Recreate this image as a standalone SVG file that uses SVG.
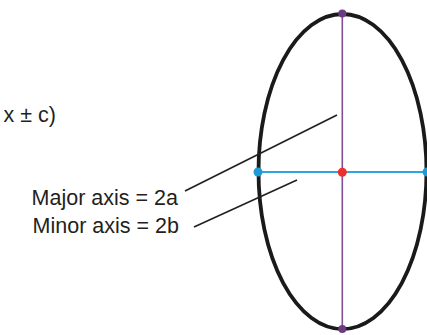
<svg xmlns="http://www.w3.org/2000/svg" width="427" height="335" viewBox="0 0 427 335">
<style>
.lbl{font-family:"Liberation Sans",Arial,sans-serif;font-size:21.5px;fill:#231f20}
.leader{stroke:#231f20;stroke-width:1.6;fill:none}
</style>
<rect width="427" height="335" fill="#fff"/>
<g id="ellipse">
<ellipse cx="342.5" cy="171.5" rx="84" ry="157.5" fill="none" stroke="#1a1a1a" stroke-width="3.8"/>
</g>
<g id="major-axis">
<line x1="342.3" y1="13.5" x2="342.3" y2="329" stroke="#7f4f9a" stroke-width="1.6"/>
<circle cx="342.3" cy="13.5" r="4" fill="#6b3d80"/>
<circle cx="342.3" cy="329" r="4" fill="#6b3d80"/>
</g>
<g id="minor-axis">
<line x1="258" y1="172" x2="427" y2="172" stroke="#2aa9e0" stroke-width="2"/>
<circle cx="258" cy="172" r="4.5" fill="#1e9bd7"/>
<circle cx="427" cy="172" r="4.5" fill="#1e9bd7"/>
</g>
<g id="center">
<circle cx="342.3" cy="172.3" r="4.5" fill="#ed2f2f"/>
</g>
<g id="foci-label">
<text class="lbl" x="56" y="122" text-anchor="end">x ± c)</text>
</g>
<g id="major-label">
<text class="lbl" x="178" y="205" text-anchor="end">Major axis = 2a</text>
</g>
<g id="minor-label">
<text class="lbl" x="179" y="233" text-anchor="end">Minor axis = 2b</text>
</g>
<g id="connectors">
<line class="leader" x1="185" y1="191" x2="337" y2="115"/>
<line class="leader" x1="194" y1="227" x2="297" y2="180"/>
</g>
</svg>
